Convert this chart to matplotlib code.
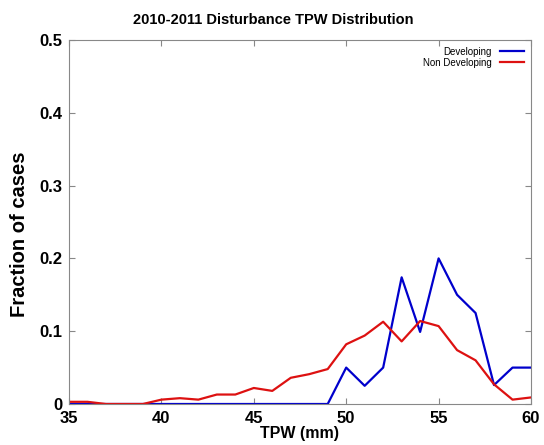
import matplotlib.pyplot as plt
import numpy as np

plt.rcParams['font.family'] = ['Liberation Sans', 'DejaVu Sans']

tpw = np.arange(35, 61)
developing = [0, 0, 0, 0, 0, 0, 0, 0, 0, 0, 0, 0, 0, 0, 0,
              0.05, 0.025, 0.05, 0.174, 0.099, 0.2, 0.15, 0.125, 0.026, 0.05, 0.05]
non_developing = [0.003, 0.003, 0, 0, 0, 0.006, 0.008, 0.006, 0.013, 0.013, 0.022,
                  0.018, 0.036, 0.041, 0.048, 0.082, 0.094, 0.113, 0.086, 0.114,
                  0.107, 0.074, 0.06, 0.027, 0.006, 0.009]

fig = plt.figure(figsize=(5.44, 4.45), dpi=100)
ax = fig.add_axes([69 / 544, 1 - 404 / 445, 462 / 544, 364 / 445])

ax.plot(tpw, developing, color='#0000cc', lw=1.6, label='Developing')
ax.plot(tpw, non_developing, color='#dd1111', lw=1.6, label='Non Developing')

ax.set_xlim(35, 60)
ax.set_ylim(0, 0.5)
ax.set_xticks([35, 40, 45, 50, 55, 60])
ax.set_yticks([0, 0.1, 0.2, 0.3, 0.4, 0.5])
ax.set_yticklabels(['0', '0.1', '0.2', '0.3', '0.4', '0.5'])
ax.tick_params(direction='in', top=True, right=True, length=4, color='#888888',
               labelsize=12, pad=5)
for lab in ax.get_xticklabels() + ax.get_yticklabels():
    lab.set_fontweight('bold')
for s in ax.spines.values():
    s.set_color('#888888')

# title sits a bit left of the axes centre in the original
fig.text(273 / 544, 1 - 20 / 445, '2010-2011 Disturbance TPW Distribution',
         fontsize=10.5, fontweight='bold', ha='center', va='center')
ax.set_xlabel('TPW (mm)', fontsize=11.5, fontweight='bold', labelpad=0)
ax.set_ylabel('Fraction of cases', fontsize=14.5, fontweight='bold')
ax.yaxis.set_label_coords(-0.087, 0.466)

ax.legend(loc='upper right', markerfirst=False, frameon=False, fontsize=7,
          handlelength=2.5, labelspacing=0.1, borderaxespad=0.3)

fig.savefig('out.png', dpi=100)
